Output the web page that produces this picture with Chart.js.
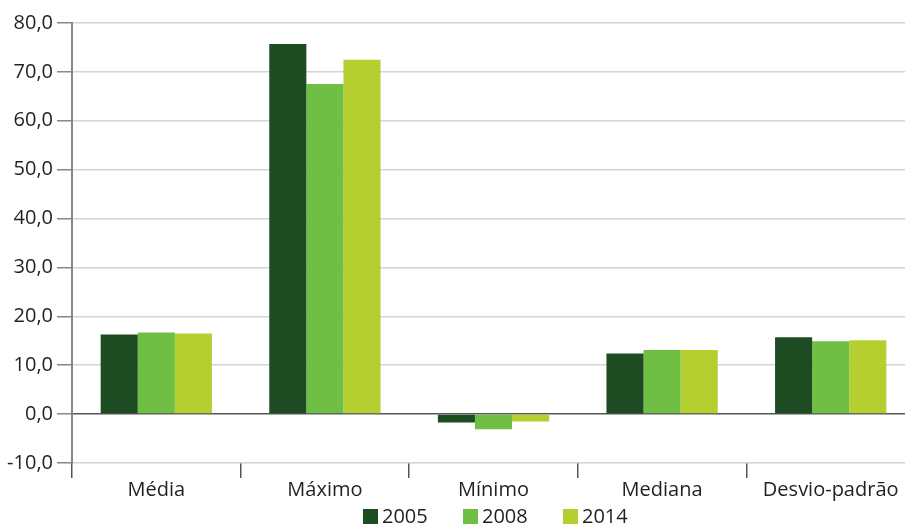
<!DOCTYPE html>
<html>
<head>
<meta charset="utf-8">
<script src="https://cdn.jsdelivr.net/npm/chart.js@4.4.0/dist/chart.umd.min.js"></script>
<style>
  body { margin: 0; overflow: hidden; background: #fff; font-family: 'Open Sans', 'Noto Sans', sans-serif; }
  #caixa { position: absolute; left: 0; top: 0; width: 915px; height: 503px; }
  #legenda { position: absolute; left: 363px; top: 505px; display: flex; font-size: 20px; color: #231f20; line-height: 22px; }
  #legenda .item { display: flex; align-items: center; width: 100px; }
  #legenda .cor { width: 15px; height: 15px; margin-right: 4px; }
</style>
</head>
<body>
<div id="caixa"><canvas id="grafico"></canvas></div>
<div id="legenda"></div>
<script>
const categorias = ['Média', 'Máximo', 'Mínimo', 'Mediana', 'Desvio-padrão']
const anos = ['2005', '2008', '2014']
const valores2005 = [16.3, 75.7, -1.7, 12.4, 15.7]
const valores2008 = [16.7, 67.5, -3.1, 13.1, 14.9]
const valores2014 = [16.5, 72.5, -1.5, 13.1, 15.1]
const cores = ['#1e4c22', '#70bf45', '#b6cf30']

const fonte = "'Open Sans', 'Noto Sans', sans-serif"
const corTexto = '#231f20'

const ctx = document.getElementById('grafico')

const data = {
    labels: categorias,
    datasets: [valores2005, valores2008, valores2014].map((v, i) => ({
        label: anos[i],
        data: v,
        backgroundColor: cores[i],
        borderWidth: 0,
        barPercentage: 1,
        categoryPercentage: 0.66
    }))
}

const config = {
    type: 'bar',
    data: data,
    options: {
        responsive: true,
        maintainAspectRatio: false,
        animation: false,
        layout: { padding: { top: 23, left: 0, right: 0, bottom: 0 } },
        plugins: {
            tooltip: { enabled: false },
            legend: { display: false }
        },
        scales: {
            x: {
                grid: {
                    offset: true,
                    drawOnChartArea: false,
                    tickLength: 15,
                    tickColor: '#555',
                    lineWidth: 1.5
                },
                border: { display: false },
                ticks: {
                    font: { family: fonte, size: 20 },
                    color: corTexto,
                    padding: 0
                },
                afterFit: (scale) => { scale.height = 40 }
            },
            y: {
                min: -10,
                max: 80,
                ticks: {
                    stepSize: 10,
                    font: { family: fonte, size: 20 },
                    color: corTexto,
                    padding: 4,
                    callback: (v) => v.toFixed(1).replace('.', ',')
                },
                grid: {
                    tickLength: 15,
                    tickColor: '#888',
                    lineWidth: 1.5,
                    color: (c) => c.tick && c.tick.value === 0 ? '#555' : '#d4d4d4'
                },
                border: { color: '#888', width: 2 },
                afterFit: (scale) => { scale.width = 72 }
            }
        }
    }
}

const myChart = new Chart(ctx, config)

// legenda em HTML, abaixo do gráfico
const legenda = document.getElementById('legenda')
anos.forEach((ano, i) => {
    const item = document.createElement('div')
    item.className = 'item'
    item.innerHTML = `<span class="cor" style="background:${cores[i]}"></span><span>${ano}</span>`
    legenda.appendChild(item)
})
</script>
</body>
</html>
